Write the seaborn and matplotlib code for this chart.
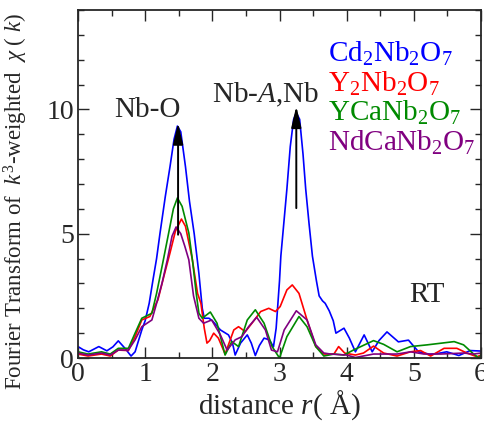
import numpy as np
import pandas as pd
import matplotlib
matplotlib.use('Agg')
import matplotlib.pyplot as plt
from matplotlib.ticker import MultipleLocator
import seaborn as sns

# EXAFS Fourier transform |FT(k^3 chi)|
r_cd = [0.0, 0.08, 0.16, 0.31, 0.43, 0.52, 0.6, 0.7, 0.79, 0.85, 0.95, 1.0, 1.06, 1.12,
        1.17, 1.22, 1.3, 1.37, 1.43, 1.48, 1.53, 1.6, 1.66, 1.73, 1.8, 1.85, 1.88, 1.95,
        2.0, 2.12, 2.24, 2.3, 2.34, 2.42, 2.52, 2.58, 2.64, 2.7, 2.77, 2.85, 2.91, 2.95,
        3.0, 3.02, 3.07, 3.11, 3.16, 3.21, 3.25, 3.3, 3.35, 3.39, 3.44, 3.49, 3.55, 3.59,
        3.64, 3.68, 3.74, 3.8, 3.84, 3.96, 4.04, 4.13, 4.26, 4.38, 4.48, 4.6, 4.77, 4.92,
        5.07, 5.24, 5.35, 5.49, 5.67, 5.84, 6.0]
ft_cd = [0.46, 0.33, 0.25, 0.46, 0.29, 0.45, 0.69, 0.39, 0.08, 0.25, 1.13, 1.5, 2.2, 3.2,
         4.0, 5.0, 6.5, 7.7, 8.8, 9.33, 9.1, 7.7, 6.3, 5.0, 3.4, 2.0, 1.6, 1.6,
         1.5, 1.13, 0.93, 0.6, 0.12, 0.6, 0.93, 0.6, 0.1, 0.5, 0.8, 0.73, 0.45, 1.2,
         3.1, 4.1, 5.6, 6.8, 8.5, 9.6, 9.87, 9.6, 8.2, 6.8, 5.4, 4.1, 3.1, 2.5,
         2.3, 2.2, 1.9, 1.5, 1.0, 1.2, 0.8, 0.25, 0.93, 0.25, 0.7, 1.05, 0.65, 0.72,
         0.25, 0.15, 0.18, 0.25, 0.1, 0.3, 0.28]

r_y = [0.0, 0.15, 0.35, 0.48, 0.6, 0.75, 0.85, 0.95, 1.07, 1.19, 1.28, 1.37, 1.45, 1.54,
       1.6, 1.7, 1.78, 1.83, 1.88, 1.92, 1.96, 2.02, 2.09, 2.19, 2.32, 2.39, 2.49, 2.59,
       2.72, 2.84, 2.94, 3.01, 3.11, 3.19, 3.29, 3.41, 3.54, 3.66, 3.81, 3.88, 3.97, 4.13,
       4.25, 4.4, 4.55, 4.75, 4.95, 5.1, 5.25, 5.45, 5.64, 5.79, 5.94, 6.0]
ft_y = [0.16, 0.08, 0.16, 0.08, 0.32, 0.3, 0.86, 1.53, 1.67, 2.34, 3.3, 4.23, 5.1, 5.59,
        5.3, 4.0, 2.6, 2.2, 1.2, 0.6, 0.7, 1.0, 0.8, 0.16, 1.13, 1.26, 1.06, 1.4,
        1.87, 2.0, 1.87, 2.07, 2.74, 2.94, 2.6, 1.53, 0.46, 0.16, 0.16, 0.46, 0.2, 0.12,
        0.2, 0.48, 0.2, 0.08, 0.25, 0.3, 0.08, 0.39, 0.39, 0.2, 0.05, 0.12]

r_yca = [0.0, 0.15, 0.35, 0.48, 0.6, 0.75, 0.85, 0.95, 1.1, 1.17, 1.26, 1.35, 1.42, 1.48,
         1.55, 1.65, 1.71, 1.76, 1.8, 1.85, 1.97, 2.07, 2.19, 2.29, 2.39, 2.52, 2.64, 2.77,
         2.89, 3.0, 3.11, 3.29, 3.41, 3.54, 3.66, 3.81, 3.96, 4.1, 4.4, 4.55, 4.75, 4.95,
         5.2, 5.6, 5.74, 5.89, 5.97, 6.0]
ft_yca = [0.25, 0.16, 0.25, 0.16, 0.39, 0.39, 1.0, 1.6, 1.8, 2.6, 3.8, 5.03, 6.0, 6.44,
          6.1, 5.03, 3.8, 2.6, 1.8, 1.6, 1.85, 1.4, 0.12, 0.66, 0.46, 1.53, 1.94, 1.4,
          0.46, 0.0, 0.86, 1.67, 1.26, 0.46, 0.08, 0.16, 0.12, 0.32, 0.7, 0.55, 0.25, 0.46,
          0.53, 0.66, 0.53, 0.16, 0.0, 0.12]

r_nd = [0.0, 0.15, 0.35, 0.48, 0.6, 0.75, 0.85, 0.95, 1.1, 1.16, 1.25, 1.33, 1.4, 1.46,
        1.53, 1.59, 1.65, 1.72, 1.8, 1.87, 1.99, 2.12, 2.22, 2.34, 2.44, 2.54, 2.66, 2.79,
        2.88, 2.97, 3.07, 3.25, 3.41, 3.54, 3.66, 3.76, 4.0, 4.13, 4.4, 4.75, 4.95, 5.15,
        5.4, 5.74, 5.89, 6.0]
ft_nd = [0.2, 0.12, 0.2, 0.12, 0.32, 0.32, 0.73, 1.26, 1.53, 2.1, 3.0, 3.95, 4.9, 5.27,
         5.0, 4.5, 3.95, 2.5, 1.6, 1.4, 1.53, 0.93, 0.32, 0.73, 0.86, 1.26, 1.64, 1.13,
         0.32, 0.25, 1.13, 1.9, 1.53, 0.53, 0.2, 0.16, 0.12, 0.02, 0.16, 0.16, 0.25, 0.16,
         0.16, 0.2, 0.16, 0.2]

samples = ['Cd$_2$Nb$_2$O$_7$', 'Y$_2$Nb$_2$O$_7$', 'YCaNb$_2$O$_7$', 'NdCaNb$_2$O$_7$']
colors = ['#0000ff', '#ff0000', '#008a00', '#800080']

# arrows marking the Nb-O and Nb-A,Nb shells
arrow_r = [1.49, 3.25]
arrow_from = [4.96, 6.03]
arrow_to = [9.46, 10.13]
peak_labels = ['Nb-O', 'Nb-$A$,Nb']
label_r = [1.03, 2.79]
label_v = [9.68, 10.28]

frames = []
for name, r, v in zip(samples, [r_cd, r_y, r_yca, r_nd], [ft_cd, ft_y, ft_yca, ft_nd]):
    frames.append(pd.DataFrame({'r': r, 'ft': v, 'sample': name}))
df = pd.concat(frames, ignore_index=True)

sns.set_style('ticks')
plt.rcParams['font.family'] = ['Liberation Serif', 'DejaVu Serif']
plt.rcParams['mathtext.fontset'] = 'custom'
plt.rcParams['mathtext.rm'] = 'Liberation Serif'
plt.rcParams['mathtext.it'] = 'Liberation Serif:italic'

fig = plt.figure(figsize=(4.85, 4.25), dpi=100)
ax = fig.add_axes([0.1608, 0.1576, 0.831, 0.8189])

sns.lineplot(data=df, x='r', y='ft', hue='sample', palette=dict(zip(samples, colors)),
             sort=False, estimator=None, legend=False, linewidth=1.2, ax=ax)

for x, y0, y1 in zip(arrow_r, arrow_from, arrow_to):
    ax.annotate('', xy=(x, y1), xytext=(x, y0),
                arrowprops=dict(arrowstyle='-|>,head_length=0.85,head_width=0.2',
                                color='black', lw=1.4, shrinkA=0, shrinkB=0,
                                mutation_scale=15))
for txt, x, y in zip(peak_labels, label_r, label_v):
    ax.text(x, y, txt, ha='center', va='baseline', fontsize=21)

ax.text(5.2, 2.26, 'RT', ha='center', va='baseline', fontsize=21)

leg_v = [11.90, 10.69, 9.54, 8.33]
for name, c, y in zip(samples, colors, leg_v):
    ax.text(3.72, y, name, color=c, ha='left', va='baseline', fontsize=21)

ax.set_xlim(0, 6)
ax.set_ylim(0, 14)
ax.xaxis.set_major_locator(MultipleLocator(1))
ax.xaxis.set_minor_locator(MultipleLocator(0.5))
ax.yaxis.set_major_locator(MultipleLocator(5))
ax.yaxis.set_minor_locator(MultipleLocator(1))
ax.tick_params(which='both', direction='in', top=True, right=True, labelsize=20, pad=3)
ax.tick_params(which='major', length=8, width=1.0)
ax.tick_params(which='minor', length=4.5, width=1.0)
for s in ax.spines.values():
    s.set_linewidth(1.3)
    s.set_visible(True)

ax.set_xlabel('distance $r$( Å)', fontsize=21, labelpad=1)
ax.set_ylabel('Fourier Transform of  $k^3$-weighted  $\\chi$ ( $k$)', fontsize=16.5)
ax.yaxis.set_label_coords(-0.12, 0.45)

fig.savefig('out.png', dpi=100)
